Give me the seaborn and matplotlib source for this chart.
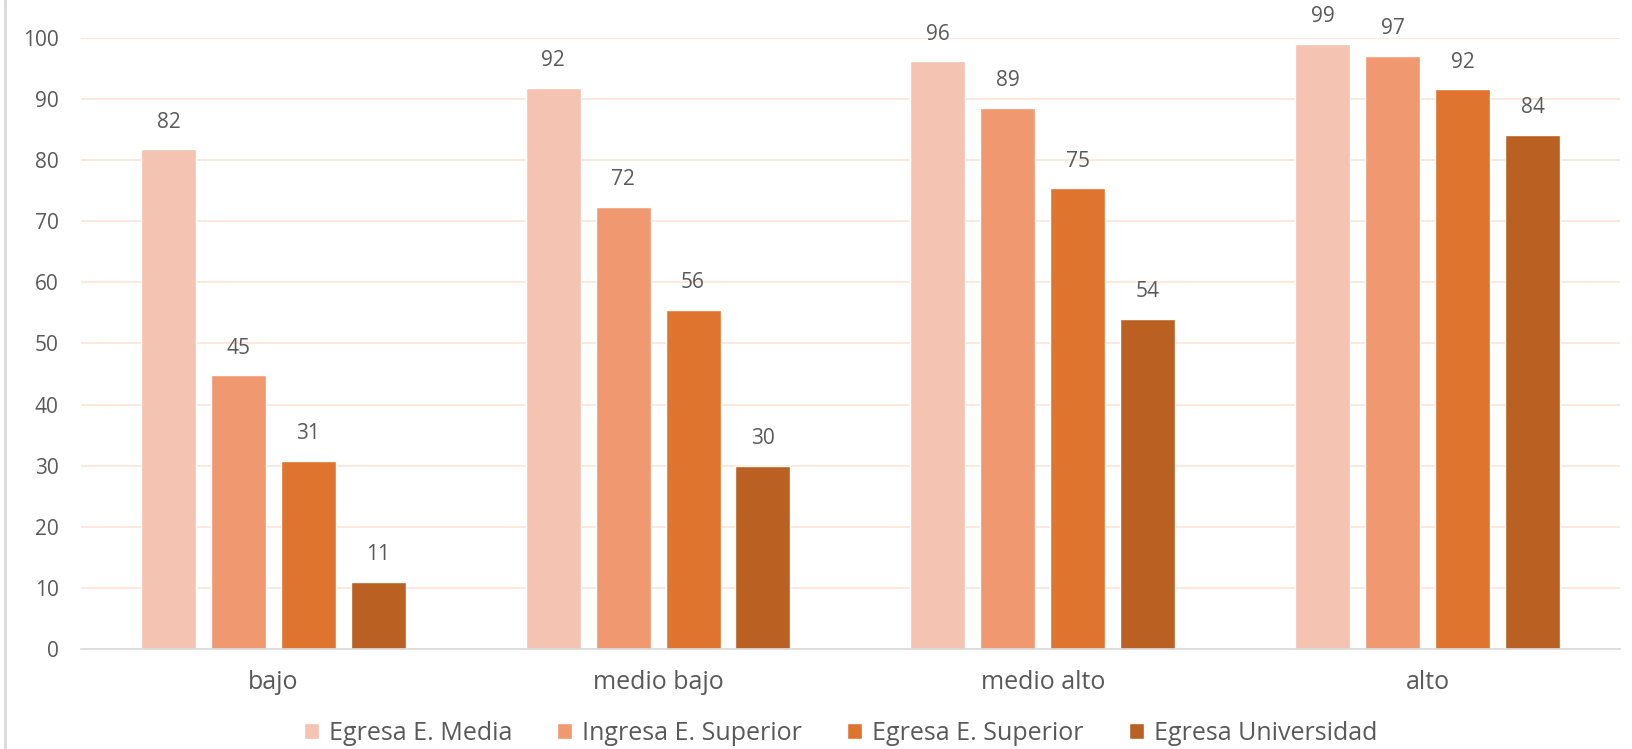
import matplotlib
matplotlib.use("Agg")
import matplotlib.pyplot as plt
from matplotlib.lines import Line2D
import seaborn as sns
import pandas as pd

# values
categories = ["bajo", "medio bajo", "medio alto", "alto"]
series = ["Egresa E. Media", "Ingresa E. Superior", "Egresa E. Superior", "Egresa Universidad"]
egresa_media = [81.8, 91.8, 96.2, 99.0]
ingresa_superior = [44.8, 72.4, 88.6, 97.1]
egresa_superior = [30.8, 55.5, 75.4, 91.6]
egresa_universidad = [11.0, 30.0, 54.0, 84.1]
colors = ["#F5C3B1", "#F09870", "#DF742F", "#BA6023"]

df = pd.DataFrame({
    "nivel": categories * 4,
    "serie": [s for s in series for _ in categories],
    "valor": egresa_media + ingresa_superior + egresa_superior + egresa_universidad,
})

sns.set_theme(style="white")
plt.rcParams["font.family"] = ["Open Sans", "DejaVu Sans"]
text_col = "#595959"

fig = plt.figure(figsize=(16.32, 7.49), dpi=100)
ax = fig.add_axes([0.0496, 0.1335, 0.943, 0.8158])

sns.barplot(data=df, x="nivel", y="valor", hue="serie", palette=colors,
            width=0.727, gap=0.214, saturation=1, ax=ax, legend=True)

for cont in ax.containers:
    ax.bar_label(cont, labels=[f"{v:.0f}" for v in cont.datavalues],
                 padding=12, fontsize=15, color=text_col)

ax.set_ylim(0, 100)
ax.set_xlim(-0.5, 3.5)
ax.set_yticks(range(0, 101, 10))
ax.yaxis.grid(True, color="#FCE4D6", linewidth=1.2)
ax.set_axisbelow(True)
for s in ["top", "right", "left"]:
    ax.spines[s].set_visible(False)
ax.spines["bottom"].set_color("#D9D9D9")
ax.spines["bottom"].set_linewidth(1.2)
ax.tick_params(axis="y", length=0, labelsize=15, colors=text_col, pad=16)
ax.tick_params(axis="x", length=0, labelsize=18, colors=text_col, pad=15)
ax.set_xlabel("")
ax.set_ylabel("")

ax.legend(loc="center", bbox_to_anchor=(0.515, 0.021), bbox_transform=fig.transFigure,
          ncol=4, frameon=False, fontsize=18, handlelength=0.6, handleheight=0.6,
          columnspacing=1.8, handletextpad=0.4, labelcolor=text_col)

fig.add_artist(Line2D([0.003, 0.003], [0, 1], transform=fig.transFigure,
                      color="#D9D9D9", linewidth=2))

fig.savefig("out.png", dpi=100)
